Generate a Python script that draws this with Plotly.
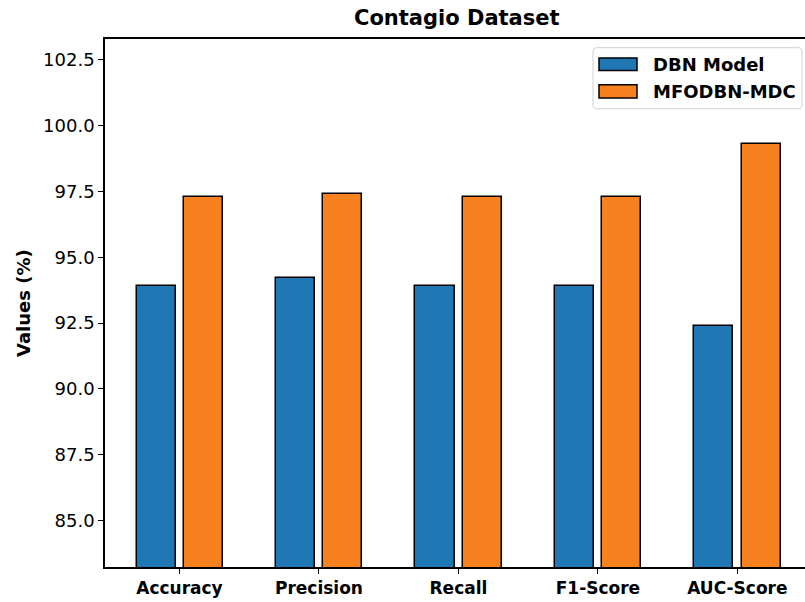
import plotly.graph_objects as go

categories = ["Accuracy", "Precision", "Recall", "F1-Score", "AUC-Score"]
dbn_values = [93.9, 94.2, 93.9, 93.9, 92.4]
mfodbn_values = [97.3, 97.4, 97.3, 97.3, 99.3]
series_names = ["DBN Model", "MFODBN-MDC"]
y_ticks = [85.0, 87.5, 90.0, 92.5, 95.0, 97.5, 100.0, 102.5]

BLUE = "#1f77b4"
ORANGE = "#f7801f"
FONT = "DejaVu Sans"

W, H = 805, 602
L, R = 105, 805
T, B = 39.3, 566.7

fig = go.Figure()
fig.add_trace(go.Bar(
    x=categories, y=dbn_values, name=series_names[0],
    marker=dict(color=BLUE, line=dict(color="black", width=1.5)),
    width=0.28, offset=-0.308, showlegend=False,
))
fig.add_trace(go.Bar(
    x=categories, y=mfodbn_values, name=series_names[1],
    marker=dict(color=ORANGE, line=dict(color="black", width=1.5)),
    width=0.28, offset=0.032, showlegend=False,
))

def px_x(p):
    return (p - L) / (R - L)

def px_y(p):
    return (B - p) / (B - T)

def rounded_box(x0, y0, x1, y1, r):
    pts = [
        f"M {px_x(x0 + r)},{px_y(y0)}",
        f"L {px_x(x1 - r)},{px_y(y0)}",
        f"Q {px_x(x1)},{px_y(y0)} {px_x(x1)},{px_y(y0 + r)}",
        f"L {px_x(x1)},{px_y(y1 - r)}",
        f"Q {px_x(x1)},{px_y(y1)} {px_x(x1 - r)},{px_y(y1)}",
        f"L {px_x(x0 + r)},{px_y(y1)}",
        f"Q {px_x(x0)},{px_y(y1)} {px_x(x0)},{px_y(y1 - r)}",
        f"L {px_x(x0)},{px_y(y0 + r)}",
        f"Q {px_x(x0)},{px_y(y0)} {px_x(x0 + r)},{px_y(y0)}",
        "Z",
    ]
    return " ".join(pts)

# legend (manual, to match matplotlib patch size)
shapes = [
    dict(type="path", xref="paper", yref="paper",
         path=rounded_box(593, 48, 802, 109, 4),
         line=dict(color="#d0d0d0", width=1), fillcolor="white", layer="above"),
    dict(type="rect", xref="paper", yref="paper",
         x0=px_x(599), x1=px_x(637), y0=px_y(70.7), y1=px_y(58.3),
         line=dict(color="black", width=1.5), fillcolor=BLUE, layer="above"),
    dict(type="rect", xref="paper", yref="paper",
         x0=px_x(599), x1=px_x(637), y0=px_y(98.3), y1=px_y(85),
         line=dict(color="black", width=1.5), fillcolor=ORANGE, layer="above"),
]
annotations = [
    dict(text="<b>" + series_names[0] + "</b>", xref="paper", yref="paper",
         x=px_x(651), y=px_y(64.5), xanchor="left", yanchor="middle",
         showarrow=False, font=dict(family=FONT, size=18, color="black")),
    dict(text="<b>" + series_names[1] + "</b>", xref="paper", yref="paper",
         x=px_x(651), y=px_y(91.7), xanchor="left", yanchor="middle",
         showarrow=False, font=dict(family=FONT, size=18, color="black")),
    dict(text="<b>Values (%)</b>", xref="paper", yref="paper",
         x=px_x(23), y=0.5, xanchor="center", yanchor="middle", textangle=-90,
         showarrow=False, font=dict(family=FONT, size=18, color="black")),
    dict(text="<b>Contagio Dataset</b>", xref="paper", yref="paper",
         x=px_x(457), y=px_y(18), xanchor="center", yanchor="middle",
         showarrow=False, font=dict(family=FONT, size=21, color="black")),
]

fig.update_layout(
    width=W, height=H,
    margin=dict(l=L, r=W - R, t=T, b=H - B, pad=0, autoexpand=False),
    plot_bgcolor="white", paper_bgcolor="white",
    font=dict(family=FONT, size=18, color="black"),
    shapes=shapes, annotations=annotations,
    bargap=0, barmode="overlay", showlegend=False,
)
fig.update_xaxes(
    range=[-0.534, 4.485], showgrid=False, zeroline=False, automargin=False,
    showline=True, linecolor="black", linewidth=1.5, mirror=True,
    ticks="outside", ticklen=5, tickwidth=1.2, tickcolor="black",
    tickfont=dict(family=FONT, size=17, color="black", weight="bold"),
)
fig.update_yaxes(
    range=[83.23, 103.29], showgrid=False, zeroline=False, automargin=False,
    showline=True, linecolor="black", linewidth=1.5, mirror=False,
    tickvals=y_ticks, ticktext=[f"{v:.1f}" for v in y_ticks],
    ticks="outside", ticklen=5, tickwidth=1.2, tickcolor="black",
    tickfont=dict(family=FONT, size=18, color="black"),
)

fig.write_html(
    "out.html",
    config={"displayModeBar": False},
    post_script="document.body.style.margin='0';document.body.style.overflow='hidden';",
)
